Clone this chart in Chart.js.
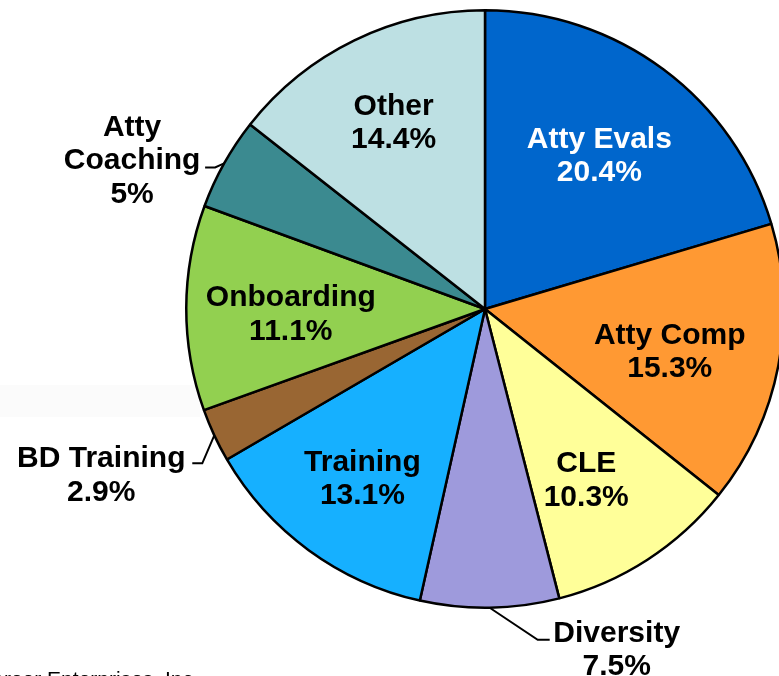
<!DOCTYPE html>
<html>
<head>
<meta charset="utf-8">
<script src="https://cdn.jsdelivr.net/npm/chart.js@4.4.1/dist/chart.umd.min.js"></script>
<style>
  html, body { margin: 0; padding: 0; background: #ffffff; overflow: hidden; }
  #wrap { position: relative; width: 800px; height: 676px; }
</style>
</head>
<body>
<div id="wrap"><canvas id="c" width="800" height="676"></canvas></div>
<script>
// Spend categories and their share of the total (percent)
const categories = ["Atty Evals", "Atty Comp", "CLE", "Diversity", "Training",
                    "BD Training", "Onboarding", "Atty Coaching", "Other"];
const shares = [20.4, 15.3, 10.3, 7.5, 13.1, 2.9, 11.1, 5, 14.4];
const sliceColors = ["#0066CC", "#FF9933", "#FFFF99", "#9E9ADC", "#16B0FF",
                     "#996633", "#92D050", "#3B8A90", "#BDE0E3"];
const footerText = "Career Enterprises, Inc.";

const FONT = '"Liberation Sans", Arial, sans-serif';
const FS = 30;
const LH = 33.5;

// Label placement: inside labels sit along the slice's mid-angle;
// outside labels hang off a leader line that starts at the rim.
const inside = {
  "Atty Evals": { f: 0.64, dx: 0,  dy: -2, color: "#ffffff" },
  "Atty Comp":  { f: 0.63, dx: 0,  dy: 5,  color: "#000000" },
  "CLE":        { f: 0.66, dx: -6, dy: 4,  color: "#000000" },
  "Training":   { f: 0.695, dx: 0, dy: 0,  color: "#000000" },
  "Onboarding": { f: 0.65, dx: 0,  dy: 4,  color: "#000000" },
  "Other":      { f: 0.70, dx: 0,  dy: 0,  color: "#000000" }
};
const outside = {
  "Atty Coaching": { lines: ["Atty", "Coaching"], elbow: [-9, 4], end: [-19, 4], text: [-73, -9] },
  "BD Training":   { lines: ["BD Training"], elbow: [-12, 28], end: [-22, 28], text: [-91, 10] },
  "Diversity":     { lines: ["Diversity"], elbow: [48, 32], end: [60, 32], text: [67, 8] }
};

function fmt(v) { return v + "%"; }

function drawBlock(ctx, lines, cx, cy, color) {
  ctx.save();
  ctx.font = "bold " + FS + "px " + FONT;
  ctx.fillStyle = color;
  ctx.textAlign = "center";
  ctx.textBaseline = "alphabetic";
  const n = lines.length;
  lines.forEach((t, i) => {
    const capMid = cy + (i - (n - 1) / 2) * LH;
    ctx.fillText(t, cx, capMid + 0.358 * FS);
  });
  ctx.restore();
}

const backdrop = {
  id: "backdrop",
  beforeDraw(chart) {
    const ctx = chart.ctx;
    ctx.save();
    ctx.fillStyle = "#ffffff";
    ctx.fillRect(0, 0, chart.width, chart.height);
    ctx.fillStyle = "#FBFBFB";
    ctx.fillRect(0, 385, 200, 32);
    ctx.restore();
  }
};

const sliceLabels = {
  id: "sliceLabels",
  afterDatasetsDraw(chart) {
    const ctx = chart.ctx;
    const meta = chart.getDatasetMeta(0);
    const values = chart.data.datasets[0].data;
    meta.data.forEach((arc, i) => {
      const name = chart.data.labels[i];
      const p = arc.getProps(["x", "y", "startAngle", "endAngle", "outerRadius"], true);
      const mid = (p.startAngle + p.endAngle) / 2;
      const cos = Math.cos(mid), sin = Math.sin(mid);
      const pct = fmt(values[i]);
      if (inside[name]) {
        const o = inside[name];
        const cx = p.x + cos * p.outerRadius * o.f + o.dx;
        const cy = p.y + sin * p.outerRadius * o.f + o.dy;
        drawBlock(ctx, [name, pct], cx, cy, o.color);
      } else if (outside[name]) {
        const o = outside[name];
        const ex = p.x + cos * p.outerRadius, ey = p.y + sin * p.outerRadius;
        ctx.save();
        ctx.strokeStyle = "#000000";
        ctx.lineWidth = 2;
        ctx.beginPath();
        ctx.moveTo(ex, ey);
        ctx.lineTo(ex + o.elbow[0], ey + o.elbow[1]);
        ctx.lineTo(ex + o.end[0], ey + o.end[1]);
        ctx.stroke();
        ctx.restore();
        drawBlock(ctx, o.lines.concat([pct]),
                  ex + o.end[0] + o.text[0], ey + o.end[1] + o.text[1], "#000000");
      }
    });

    // footer credit along the bottom edge
    ctx.save();
    ctx.font = "21px " + FONT;
    ctx.fillStyle = "#000000";
    ctx.textAlign = "left";
    ctx.textBaseline = "alphabetic";
    const w = ctx.measureText(footerText).width;
    const wTail = ctx.measureText(".").width;
    ctx.fillText(footerText, 193 + wTail - w, 686);
    ctx.restore();
  }
};

new Chart(document.getElementById("c"), {
  type: "pie",
  data: {
    labels: categories,
    datasets: [{
      data: shares,
      backgroundColor: sliceColors,
      borderColor: "#000000",
      borderWidth: 2.5,
      hoverOffset: 0
    }]
  },
  options: {
    responsive: false,
    animation: false,
    events: [],
    rotation: 0,
    layout: { padding: { left: 185, right: 15, top: 9, bottom: 67 } },
    plugins: {
      legend: { display: false },
      tooltip: { enabled: false },
      title: { display: false }
    }
  },
  plugins: [backdrop, sliceLabels]
});
</script>
</body>
</html>
